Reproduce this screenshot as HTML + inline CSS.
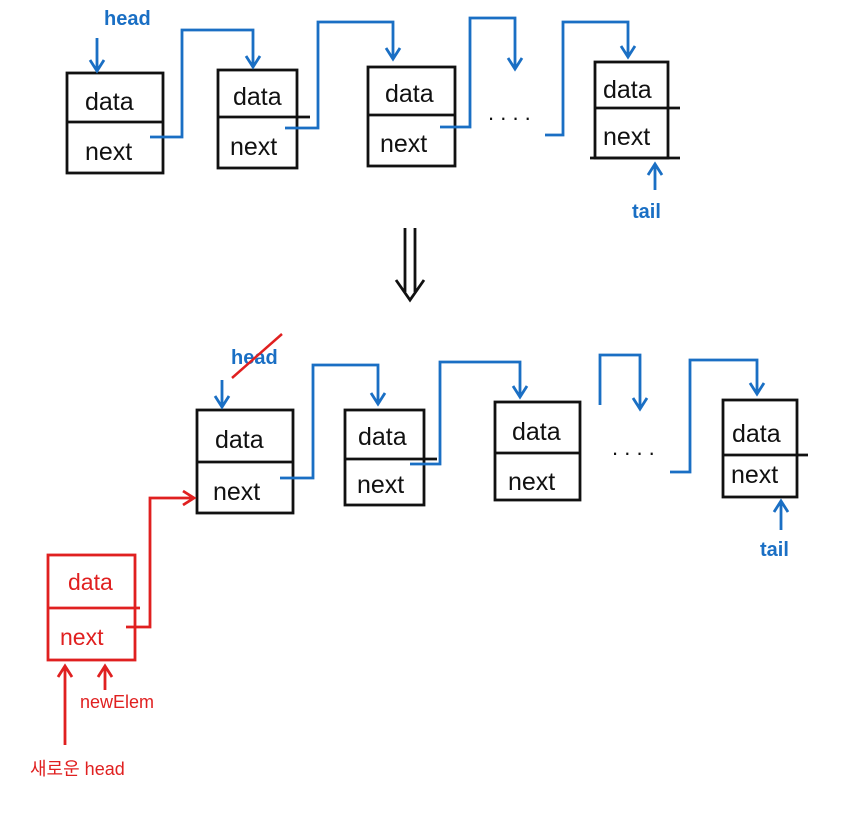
<!DOCTYPE html>
<html><head><style>html,body{margin:0;padding:0;background:#fff}svg{display:block}</style></head>
<body>
<svg width="845" height="813" viewBox="0 0 845 813" xmlns="http://www.w3.org/2000/svg" font-family="'Liberation Sans','Noto Sans CJK KR',sans-serif">
<g fill="none" stroke="#111" stroke-width="2.8">
<rect x="67" y="73" width="96" height="100"/><line x1="67" y1="122" x2="163" y2="122"/>
<rect x="218" y="70" width="79" height="98"/><line x1="218" y1="117" x2="310" y2="117"/>
<rect x="368" y="67" width="87" height="99"/><line x1="368" y1="115" x2="455" y2="115"/>
<rect x="595" y="62" width="73" height="96"/><line x1="595" y1="108" x2="680" y2="108"/><line x1="590" y1="158" x2="680" y2="158"/>
<rect x="197" y="410" width="96" height="103"/><line x1="197" y1="462" x2="293" y2="462"/>
<rect x="345" y="410" width="79" height="95"/><line x1="345" y1="459" x2="437" y2="459"/>
<rect x="495" y="402" width="85" height="98"/><line x1="495" y1="453" x2="580" y2="453"/>
<rect x="723" y="400" width="74" height="97"/><line x1="723" y1="455" x2="808" y2="455"/>
<path d="M405 228 V292 M415 228 V292 M396 280 L410 300 L424 280"/>
</g>
<g fill="none" stroke="#1a6fc4" stroke-width="2.8">
<path d="M97 38 V70 M90 60 L97 71 L104 60"/>
<path d="M150 137 H182 V30 H253 V66 M246 56 L253 67 L260 56"/>
<path d="M285 128 H318 V22 H393 V58 M386 48 L393 59 L400 48"/>
<path d="M440 127 H470 V18 H515 V68 M508 58 L515 69 L522 58"/>
<path d="M545 135 H563 V22 H628 V56 M621 46 L628 57 L635 46"/>
<path d="M655 190 V165 M648 175 L655 164 L662 175"/>
<path d="M222 380 V406 M215 396 L222 407 L229 396"/>
<path d="M280 478 H313 V365 H378 V403 M371 393 L378 404 L385 393"/>
<path d="M410 464 H440 V362 H520 V396 M513 386 L520 397 L527 386"/>
<path d="M600 405 V355 H640 V408 M633 398 L640 409 L647 398"/>
<path d="M670 472 H690 V360 H757 V393 M750 383 L757 394 L764 383"/>
<path d="M781 530 V502 M774 512 L781 501 L788 512"/>
</g>
<g fill="#1a6fc4" font-size="20" font-weight="bold">
<text x="104" y="25">head</text>
<text x="632" y="218">tail</text>
<text x="231" y="364">head</text>
<text x="760" y="556">tail</text>
</g>
<text x="488" y="120" font-size="22" fill="#111">. . . .</text>
<text x="612" y="455" font-size="22" fill="#111">. . . .</text>
<line x1="232" y1="378" x2="282" y2="334" stroke="#e02020" stroke-width="2.5"/>
<g font-size="25" fill="#111">
<text x="85" y="110">data</text><text x="85" y="160">next</text>
<text x="233" y="105">data</text><text x="230" y="155">next</text>
<text x="385" y="102">data</text><text x="380" y="152">next</text>
<text x="603" y="98">data</text><text x="603" y="145">next</text>
<text x="215" y="448">data</text><text x="213" y="500">next</text>
<text x="358" y="445">data</text><text x="357" y="493">next</text>
<text x="512" y="440">data</text><text x="508" y="490">next</text>
<text x="732" y="442">data</text><text x="731" y="483">next</text>
</g>
<g fill="none" stroke="#e02020" stroke-width="2.8">
<rect x="48" y="555" width="87" height="105"/><line x1="48" y1="608" x2="140" y2="608"/>
<path d="M126 627 H150 V498 H193 M183 491 L194 498 L183 505"/>
<path d="M105 690 V667 M98 677 L105 666 L112 677"/>
<path d="M65 745 V667 M58 677 L65 666 L72 677"/>
</g>
<g fill="#e02020">
<text x="68" y="590" font-size="23">data</text>
<text x="60" y="645" font-size="23">next</text>
<text x="80" y="708" font-size="18">newElem</text>
<text x="30" y="775" font-size="18">새로운 head</text>
</g>
</svg>
</body></html>
